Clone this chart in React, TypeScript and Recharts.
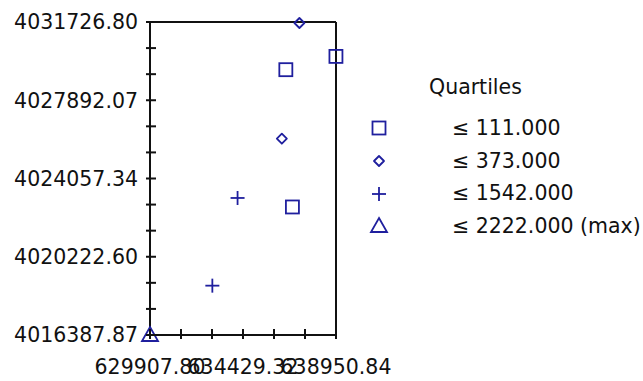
import { Legend, ReferenceLine, Scatter, ScatterChart, XAxis, YAxis } from "recharts";

const X_MIN = 629907.8;
const X_MAX = 638950.84;
const Y_MIN = 4016387.87;
const Y_MAX = 4031726.8;

const X_TICKS = [629907.8, 631414.97, 632922.14, 634429.32, 635936.49, 637443.66, 638950.84];
const X_LABELS = ["629907.80", "", "", "634429.32", "", "", "638950.84"];
const Y_TICKS = [
  4016387.87, 4017666.17, 4018944.42, 4020222.6, 4021500.85, 4022779.09, 4024057.34,
  4025335.58, 4026613.83, 4027892.07, 4029170.32, 4030448.56, 4031726.8,
];
const Y_LABELS = [
  "4016387.87", "", "", "4020222.60", "", "", "4024057.34",
  "", "", "4027892.07", "", "", "4031726.80",
];

type Pt = { x: number; y: number };
const Q1: Pt[] = [
  { x: 636512, y: 4029390 },
  { x: 638948, y: 4030041 },
  { x: 636832, y: 4022662 },
];
const Q2: Pt[] = [
  { x: 637172, y: 4031678 },
  { x: 636318, y: 4026009 },
];
const Q3: Pt[] = [
  { x: 634165, y: 4023103 },
  { x: 632939, y: 4018806 },
];
const Q4: Pt[] = [{ x: 629907.8, y: 4016387.87 }];

const LEGEND_TITLE = "Quartiles";
const LEGEND_LABELS = ["≤ 111.000", "≤ 373.000", "≤ 1542.000", "≤ 2222.000 (max)"];
type Shape = "square" | "diamond" | "plus" | "triangle";
const SHAPES: Shape[] = ["square", "diamond", "plus", "triangle"];
const SERIES = [Q1, Q2, Q3, Q4];

const BLUE = "#1f1f9e";
const FONT = "'DejaVu Sans', sans-serif";
const FS = 20.5;

function Marker({ cx, cy, shape }: { cx: number; cy: number; shape: Shape }) {
  const sw = 1.8;
  if (shape === "square")
    return <rect x={cx - 6.5} y={cy - 6.5} width={13} height={13} fill="none" stroke={BLUE} strokeWidth={sw} />;
  if (shape === "diamond")
    return (
      <polygon
        points={`${cx},${cy - 5} ${cx + 5},${cy} ${cx},${cy + 5} ${cx - 5},${cy}`}
        fill="none"
        stroke={BLUE}
        strokeWidth={sw}
        strokeLinejoin="round"
      />
    );
  if (shape === "plus")
    return (
      <g stroke={BLUE} strokeWidth={sw}>
        <line x1={cx - 7} y1={cy} x2={cx + 7} y2={cy} />
        <line x1={cx} y1={cy - 7} x2={cx} y2={cy + 7} />
      </g>
    );
  return (
    <polygon
      points={`${cx},${cy - 8} ${cx + 8},${cy + 6} ${cx - 8},${cy + 6}`}
      fill="none"
      stroke={BLUE}
      strokeWidth={sw}
    />
  );
}

function YTick(props: any) {
  const { x, y, index } = props;
  const label = Y_LABELS[index] ?? "";
  return (
    <g>
      <line x1={x - 4} y1={y} x2={x + 6} y2={y} stroke="#111" strokeWidth={2} />
      {label && (
        <text x={x - 12} y={y} dy="0.36em" textAnchor="end" fontFamily={FONT} fontSize={FS} fill="#111">
          {label}
        </text>
      )}
    </g>
  );
}

function XTick(props: any) {
  const { x, y, index } = props;
  const label = X_LABELS[index] ?? "";
  return (
    <g>
      <line x1={x} y1={y - 6} x2={x} y2={y + 4} stroke="#111" strokeWidth={2} />
      {label && (
        <text x={x} y={y + 32} dy="0.36em" textAnchor="middle" fontFamily={FONT} fontSize={FS} fill="#111">
          {label}
        </text>
      )}
    </g>
  );
}

function LegendBox() {
  return (
    <div style={{ fontFamily: FONT, fontSize: FS, color: "#111", lineHeight: "31px" }}>
      <div style={{ paddingLeft: 60, marginBottom: 9 }}>{LEGEND_TITLE}</div>
      {LEGEND_LABELS.map((lab, i) => (
        <div key={lab} style={{ display: "flex", alignItems: "center", height: 32.7 }}>
          <svg width={20} height={20}>
            <Marker cx={10} cy={10} shape={SHAPES[i]} />
          </svg>
          <span style={{ marginLeft: 63 }}>{lab}</span>
        </div>
      ))}
    </div>
  );
}

export default function App() {
  return (
    <div style={{ position: "absolute", left: 0, top: 0, width: 643, height: 381, background: "#fff" }}>
      <ScatterChart width={643} height={381} margin={{ top: 22, right: 307, bottom: 0, left: 0 }}>
        <XAxis
          type="number"
          dataKey="x"
          domain={[X_MIN, X_MAX]}
          ticks={X_TICKS}
          interval={0}
          height={46}
          tickSize={0}
          tickMargin={0}
          tickLine={false}
          axisLine={{ stroke: "#111", strokeWidth: 2 }}
          tick={(p: any) => <XTick {...p} />}
        />
        <YAxis
          type="number"
          dataKey="y"
          domain={[Y_MIN, Y_MAX]}
          ticks={Y_TICKS}
          interval={0}
          width={150}
          tickSize={0}
          tickMargin={0}
          tickLine={false}
          axisLine={{ stroke: "#111", strokeWidth: 2 }}
          tick={(p: any) => <YTick {...p} />}
        />
        <ReferenceLine y={Y_MAX} stroke="#111" strokeWidth={2} />
        <ReferenceLine x={X_MAX} stroke="#111" strokeWidth={2} />
        {SERIES.map((data, i) => (
          <Scatter
            key={i}
            name={LEGEND_LABELS[i]}
            data={data}
            isAnimationActive={false}
            shape={(p: any) => <Marker cx={p.cx} cy={p.cy} shape={SHAPES[i]} />}
          />
        ))}
        <Legend
          layout="horizontal"
          verticalAlign="middle"
          align="center"
          wrapperStyle={{ position: "absolute", left: 369, top: 72, width: 280 }}
          content={() => <LegendBox />}
        />
      </ScatterChart>
    </div>
  );
}
